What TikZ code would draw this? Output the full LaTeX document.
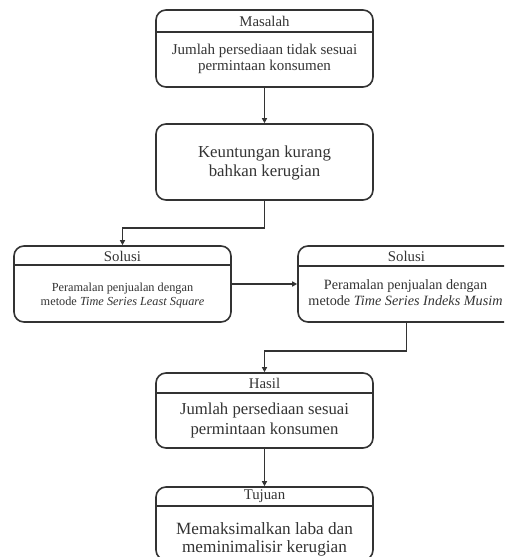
\documentclass[tikz,border=0pt]{standalone}
\usepackage{fontspec}
\setmainfont{Liberation Serif}
\usetikzlibrary{arrows.meta}
\definecolor{ink}{HTML}{333333}
\tikzset{
  box/.style={draw=ink, line width=1.6pt, rounded corners=10pt, inner sep=0pt},
  sep/.style={draw=ink, line width=1.3pt},
  hdr/.style={text=ink, inner sep=0pt, font=\fontsize{14.8}{16}\selectfont},
  body/.style={text=ink, inner sep=0pt, align=center},
  conn/.style={draw=ink, line width=1.5pt, -{Triangle[length=5pt,width=5pt]}}
}
\begin{document}
\begin{tikzpicture}[x=1pt,y=-1pt]
\useasboundingbox (0,0) rectangle (504,557);
\clip (0,0) rectangle (504,557);
% Box 1
\node[box, minimum width=217pt, minimum height=77pt] (b1) at (264.5,48.5) {};
\draw[sep] (b1.west |- 0,32) -- (b1.east |- 0,32);
\node[hdr] (b1h) at (264.5,21) {Masalah};
\node[body, font=\fontsize{15}{16}\selectfont] (b1t) at (264.5,58.5) {Jumlah persediaan tidak sesuai\\permintaan konsumen};
% Box 2
\node[box, minimum width=217pt, minimum height=76pt] (b2) at (264.5,162) {};
\node[body, font=\fontsize{16.8}{19.5}\selectfont] (b2t) at (264.5,163) {Keuntungan kurang\\bahkan kerugian};
% Box 3
\node[box, minimum width=217pt, minimum height=76pt] (b3) at (122.5,284) {};
\draw[sep] (b3.west |- 0,265) -- (b3.east |- 0,265);
\node[hdr] (b3h) at (122.5,256) {Solusi};
\node[body, font=\fontsize{12.3}{13.5}\selectfont] (b3t) at (122.5,295.5) {Peramalan penjualan dengan\\metode \textit{Time Series Least Square}};
% Box 4
\node[box, minimum width=217pt, minimum height=76pt] (b4) at (406.5,284) {};
\draw[sep] (b4.west |- 0,266) -- (b4.east |- 0,266);
\node[hdr] (b4h) at (406.5,256.5) {Solusi};
\node[body, font=\fontsize{14.2}{15.5}\selectfont] (b4t) at (405.5,292.5) {Peramalan penjualan dengan\\metode \textit{Time Series Indeks Musim}};
% Box 5
\node[box, minimum width=217pt, minimum height=75pt] (b5) at (264.5,410.5) {};
\draw[sep] (b5.west |- 0,393) -- (b5.east |- 0,393);
\node[hdr] (b5h) at (264.5,383.5) {Hasil};
\node[body, font=\fontsize{16.7}{19.5}\selectfont] (b5t) at (264.5,420.5) {Jumlah persediaan sesuai\\permintaan konsumen};
% Box 6
\node[box, minimum width=217pt, minimum height=73pt] (b6) at (264.5,523.5) {};
\draw[sep] (b6.west |- 0,506) -- (b6.east |- 0,506);
\node[hdr] (b6h) at (264.5,496.5) {Tujuan};
\node[body, font=\fontsize{17.2}{18.5}\selectfont] (b6t) at (264.5,539.5) {Memaksimalkan laba dan\\meminimalisir kerugian};
% Connectors
\draw[conn] (b1.south) -- (b2.north);
\draw[conn] (b2.south) -- (b2.south |- 0,228) -| (b3.north);
\draw[conn] (b3.east) -- (b4.west);
\draw[conn] (b4.south) -- (b4.south |- 0,351) -| (b5.north);
\draw[conn] (b5.south) -- (b6.north);
\end{tikzpicture}
\end{document}
